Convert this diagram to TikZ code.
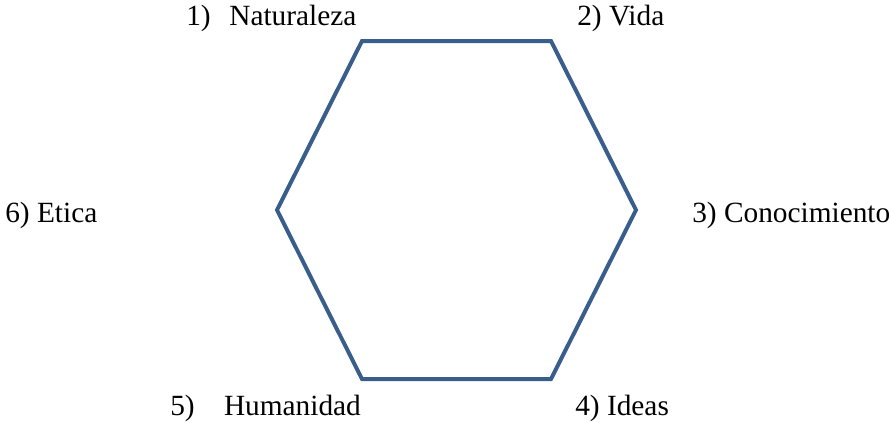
\documentclass[tikz,border=0pt]{standalone}
\usepackage{fontspec}
\setmainfont{Liberation Serif}
\definecolor{hexblue}{RGB}{58,94,140}

\begin{document}
\begin{tikzpicture}[
    x=0.75pt, y=-0.75pt,
    edge/.style={draw=hexblue, line width=3pt, line join=miter},
    lbl/.style={anchor=base west, inner sep=0pt, font=\fontsize{22}{26}\selectfont}
]
    \useasboundingbox (0,0) rectangle (893,422);

    % vertices of the hexagon
    \coordinate (V1) at (362,41);
    \coordinate (V2) at (551,41);
    \coordinate (V3) at (636,210);
    \coordinate (V4) at (551,379);
    \coordinate (V5) at (362,379);
    \coordinate (V6) at (277,210);

    \draw[edge] (V1) -- (V2) -- (V3) -- (V4) -- (V5) -- (V6) -- cycle;

    % labels
    \node[lbl] (nat) at (186,25) {1)\hspace{14pt}Naturaleza};
    \node[lbl] (vid) at (577,25) {2) Vida};
    \node[lbl] (con) at (692,222) {3) Conocimiento};
    \node[lbl] (ide) at (575,415) {4) Ideas};
    \node[lbl] (hum) at (170,415) {5)\hspace{22pt}Humanidad};
    \node[lbl] (eti) at (5,222) {6) Etica};

\end{tikzpicture}
\end{document}
